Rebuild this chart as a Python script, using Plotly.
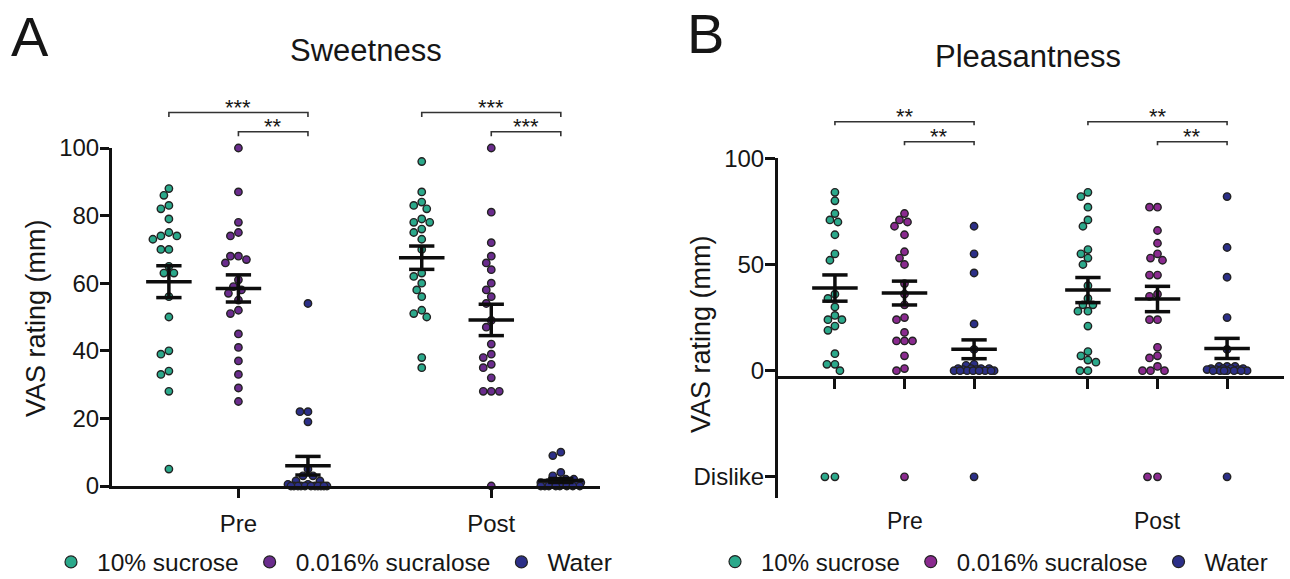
import numpy as np
import plotly.graph_objects as go

FONT = "Liberation Sans, Arial, Helvetica, sans-serif"
INK = "#161616"

# ---------------- data ----------------
groups = ["10% sucrose", "0.016% sucralose", "Water"]
sessions = ["Pre", "Post"]

# Panel A: Sweetness, VAS rating (mm)
sweet_pre_sucrose = [88, 86, 83, 82, 79, 75, 74, 73, 74, 70, 70, 65, 63, 63, 56, 50, 40, 39, 33, 34, 28, 5]
sweet_pre_sucralose = [100, 87, 78, 74, 75, 68, 67, 68, 66, 61, 59, 57, 55, 58, 51, 52, 45, 41, 37, 33, 29, 25]
sweet_pre_water = [54, 22, 22, 19, 5, 3, 3, 1.5, 1.5, 0.5, 0.5, 0, 0, 0, 0, 0, 0, 0, 0, 0, 0, 0]
sweet_post_sucrose = [96, 87, 84, 82, 83, 79, 78, 78, 76, 75, 73, 70, 63, 62, 60, 58, 56, 51, 52, 50, 38, 35]
sweet_post_sucralose = [100, 81, 72, 68, 66, 64, 60, 58, 56, 54, 49, 47, 42, 38, 39, 36, 35, 32, 28, 28, 28, 0]
sweet_post_water = [9, 10, 4, 3, 2, 2, 1, 1, 1, 1, 0.5, 0.5, 0.5, 0.5, 0, 0, 0, 0, 0, 0, 0, 0]

# Panel B: Pleasantness, VAS rating (mm); "Dislike" responses counted separately
pleas_pre_sucrose = [84, 80, 74, 71, 70, 64, 55, 52, 36, 34, 30, 26, 24, 24, 21, 19, 8, 3, 3, 0]
pleas_pre_sucralose = [74, 71, 70, 68, 64, 56, 53, 50, 41, 36, 31, 24, 25, 18, 14, 14, 14, 7, 1, 0]
pleas_pre_water = [68, 55, 46, 22, 10, 3, 2.5, 1, 1, 1, 1, 0.5, 0.5, 0, 0, 0, 0, 0, 0, 0, 0]
pleas_post_sucrose = [84, 82, 77, 71, 68, 57, 55, 53, 50, 40, 34, 31, 31, 28, 28, 21, 7, 9, 4, 5, 0, 0]
pleas_post_sucralose = [77, 77, 66, 60, 53, 52, 55, 45, 45, 36, 35, 24, 24, 11, 6, 7, 2, 0, 0, 0]
pleas_post_water = [82, 58, 44, 25, 10, 2, 2, 2, 1, 1, 1, 1, 0.5, 0.5, 0.5, 0, 0, 0, 0, 0, 0, 0]
dislike_pre = [2, 1, 1]
dislike_post = [0, 2, 1]

sig_A = {"Pre": ["***", "**"], "Post": ["***", "***"]}
sig_B = {"Pre": ["**", "**"], "Post": ["**", "**"]}

yticks_A = [0, 20, 40, 60, 80, 100]
yticks_B = [-50, 0, 50, 100]
yticktext_B = ["Dislike", "0", "50", "100"]

# ---------------- styling / layout constants ----------------
W, H = 1290, 579
colors_A = ["#2BA98B", "#6A2C8D", "#2C2F88"]
colors_B = ["#2BA98B", "#8A2A8F", "#2C2F88"]
OFFS = [-0.275, 0.0, 0.275]
DISLIKE_Y = -50


def px2fx(p):
    return p / W


def px2fy(p):
    return 1 - p / H


# axis geometry (pixels)
A_left, A_right, A_top, A_bot = 112, 600, 148, 486
B_left, B_right, B_top, B_bot = 778, 1284, 158.3, 498.1
A_xr = [0.5, 2.43]
B_xr = [0.5, 2.5]
A_yr = [0, 100]
B_yr = [-60, 100]
B_xline_px = 377

ax_ppu_A = (A_right - A_left) / (A_xr[1] - A_xr[0])
ay_ppu_A = (A_bot - A_top) / (A_yr[1] - A_yr[0])
ax_ppu_B = (B_right - B_left) / (B_xr[1] - B_xr[0])
ay_ppu_B = (B_bot - B_top) / (B_yr[1] - B_yr[0])


def swarm(values, ppu, diam=8.0, max_half=20.0, step=1.0):
    vals = np.asarray(values, dtype=float)
    order = np.argsort(-vals, kind="stable")
    cands = np.arange(-max_half, max_half + 1e-9, step)
    cands = cands[np.argsort(np.abs(cands), kind="stable")]
    placed = []
    out = np.zeros(len(vals))
    for i in order:
        y = vals[i] * ppu
        best, bestd = 0.0, -1.0
        for c in cands:
            if placed:
                arr = np.array(placed)
                dmin = np.min(np.hypot(arr[:, 0] - c, arr[:, 1] - y))
            else:
                dmin = 1e9
            if dmin >= diam:
                best = c
                break
            if dmin > bestd + 1e-6:
                bestd, best = dmin, c
        placed.append((best, y))
        out[i] = best
    return out


fig = go.Figure()

panelA = {"Pre": [sweet_pre_sucrose, sweet_pre_sucralose, sweet_pre_water],
          "Post": [sweet_post_sucrose, sweet_post_sucralose, sweet_post_water]}
panelB = {"Pre": [pleas_pre_sucrose, pleas_pre_sucralose, pleas_pre_water],
          "Post": [pleas_post_sucrose, pleas_post_sucralose, pleas_post_water]}
dislikes = {"Pre": dislike_pre, "Post": dislike_post}

MS = 7.4
OUT = "#222222"
HALF_MEAN = 0.09
HALF_CAP = 0.05


def add_panel(panel, xa, ya, colors, xppu, yppu, dislike=None):
    mx, my = [], []
    for si, s in enumerate(sessions):
        center = si + 1
        for gi in range(3):
            vals = np.asarray(panel[s][gi], dtype=float)
            xc = center + OFFS[gi]
            offs = swarm(vals, yppu) / xppu
            fig.add_trace(go.Scatter(
                x=xc + offs, y=vals, mode="markers", xaxis=xa, yaxis=ya,
                marker=dict(size=MS, color=colors[gi], line=dict(width=1.4, color=OUT)),
                cliponaxis=False, showlegend=False, hoverinfo="skip"))
            if dislike is not None and dislike[s][gi] > 0:
                n = dislike[s][gi]
                dv = np.full(n, DISLIKE_Y, dtype=float)
                doffs = swarm(dv, yppu, diam=10) / xppu
                fig.add_trace(go.Scatter(
                    x=xc + doffs, y=dv, mode="markers", xaxis=xa, yaxis=ya,
                    marker=dict(size=MS, color=colors[gi], line=dict(width=1.4, color=OUT)),
                    cliponaxis=False, showlegend=False, hoverinfo="skip"))
            m = vals.mean()
            se = vals.std(ddof=1) / np.sqrt(len(vals))
            mx += [xc - HALF_MEAN, xc + HALF_MEAN, None,
                   xc - HALF_CAP, xc + HALF_CAP, None,
                   xc - HALF_CAP, xc + HALF_CAP, None,
                   xc, xc, None]
            my += [m, m, None, m + se, m + se, None, m - se, m - se, None, m + se, m - se, None]
    fig.add_trace(go.Scatter(x=mx, y=my, mode="lines", xaxis=xa, yaxis=ya,
                             line=dict(color="#0d0d0d", width=3.5),
                             showlegend=False, hoverinfo="skip"))


add_panel(panelA, "x", "y", colors_A, ax_ppu_A, ay_ppu_A)
add_panel(panelB, "x2", "y2", colors_B, ax_ppu_B, ay_ppu_B, dislike=dislikes)

# legend entries
for gi, g in enumerate(groups):
    fig.add_trace(go.Scatter(x=[None], y=[None], mode="markers", xaxis="x", yaxis="y",
                             marker=dict(size=12, color=colors_A[gi], line=dict(width=1.2, color=OUT)),
                             name=g, legend="legend"))
for gi, g in enumerate(groups):
    fig.add_trace(go.Scatter(x=[None], y=[None], mode="markers", xaxis="x2", yaxis="y2",
                             marker=dict(size=12, color=colors_B[gi], line=dict(width=1.2, color=OUT)),
                             name=g, legend="legend2"))

shapes = []
annos = []


def brackets(sig, xref, yref, yr, levels, drop):
    for si, s in enumerate(sessions):
        c = si + 1
        spans = [(c + OFFS[0], c + OFFS[2]), (c + OFFS[1], c + OFFS[2])]
        for (x0, x1), lab, lv in zip(spans, sig[s], levels):
            yd = (lv - yr[0]) / (yr[1] - yr[0])
            yd2 = (lv - drop - yr[0]) / (yr[1] - yr[0])
            shapes.append(dict(type="path", xref=xref, yref=yref + " domain",
                               path=f"M {x0},{yd2} L {x0},{yd} L {x1},{yd} L {x1},{yd2}",
                               line=dict(color="#333333", width=1.6)))
            annos.append(dict(x=(x0 + x1) / 2, y=yd, xref=xref, yref=yref + " domain",
                              text=lab, showarrow=False, xanchor="center", yanchor="bottom", yshift=-9,
                              font=dict(size=22, color=INK, family=FONT)))


brackets(sig_A, "x", "y", A_yr, [110.5, 104.8], 1.3)
brackets(sig_B, "x2", "y2", B_yr, [117.2, 107.8], 1.6)

# Pre / Post labels for panel B
for si, s in enumerate(sessions):
    annos.append(dict(x=si + 1, y=px2fy(521), xref="x2", yref="paper", text=s,
                      showarrow=False, xanchor="center", yanchor="middle",
                      font=dict(size=23, color=INK, family=FONT)))


def ptext(x, y, text, size, angle=0):
    return dict(x=px2fx(x), y=px2fy(y), xref="paper", yref="paper", text=text,
                showarrow=False, xanchor="center", yanchor="middle", textangle=angle,
                font=dict(size=size, color=INK, family=FONT))


annos += [
    ptext(30, 36, "A", 56),
    ptext(705, 34, "B", 56),
    ptext(366, 50, "Sweetness", 31),
    ptext(1028, 56, "Pleasantness", 31),
    ptext(36, 318, "VAS rating (mm)", 27, -90),
    ptext(701, 334, "VAS rating (mm)", 27, -90),
]

axcommon = dict(showline=True, linewidth=3, linecolor="#111111", ticks="outside",
                tickwidth=3, tickcolor="#111111", showgrid=False, zeroline=False,
                tickfont=dict(size=24, color=INK, family=FONT), fixedrange=True)

LEG_Y = 562
fig.update_layout(
    width=W, height=H, margin=dict(l=0, r=0, t=0, b=0, autoexpand=False),
    paper_bgcolor="white", plot_bgcolor="white",
    font=dict(family=FONT, color=INK),
    xaxis=dict(domain=[px2fx(A_left), px2fx(A_right)], range=A_xr, anchor="y",
               tickvals=[1, 2], ticktext=sessions, ticklen=9, ticklabelstandoff=5, **axcommon),
    yaxis=dict(domain=[px2fy(A_bot), px2fy(A_top)], range=A_yr, anchor="x",
               tickvals=yticks_A, ticklen=9, ticklabelstandoff=-4, **axcommon),
    xaxis2=dict(domain=[px2fx(B_left), px2fx(B_right)], range=B_xr, anchor="free",
                position=px2fy(B_xline_px),
                tickvals=[c + o for c in (1, 2) for o in OFFS], ticktext=[""] * 6,
                ticklen=10, **axcommon),
    yaxis2=dict(domain=[px2fy(B_bot), px2fy(B_top)], range=B_yr, anchor="x2",
                tickvals=yticks_B, ticktext=yticktext_B, ticklen=10, ticklabelstandoff=-4,
                **axcommon),
    legend=dict(orientation="h", x=px2fx(45), y=px2fy(LEG_Y), xanchor="left", yanchor="middle",
                font=dict(size=24.5, color=INK, family=FONT), itemwidth=42, bgcolor="rgba(0,0,0,0)"),
    legend2=dict(orientation="h", x=px2fx(709), y=px2fy(LEG_Y), xanchor="left", yanchor="middle",
                 font=dict(size=24, color=INK, family=FONT), itemwidth=42, bgcolor="rgba(0,0,0,0)"),
    shapes=shapes, annotations=annos,
)

fig.write_html("out.html", config={"displayModeBar": False},
               post_script="document.body.style.margin='0px';")
